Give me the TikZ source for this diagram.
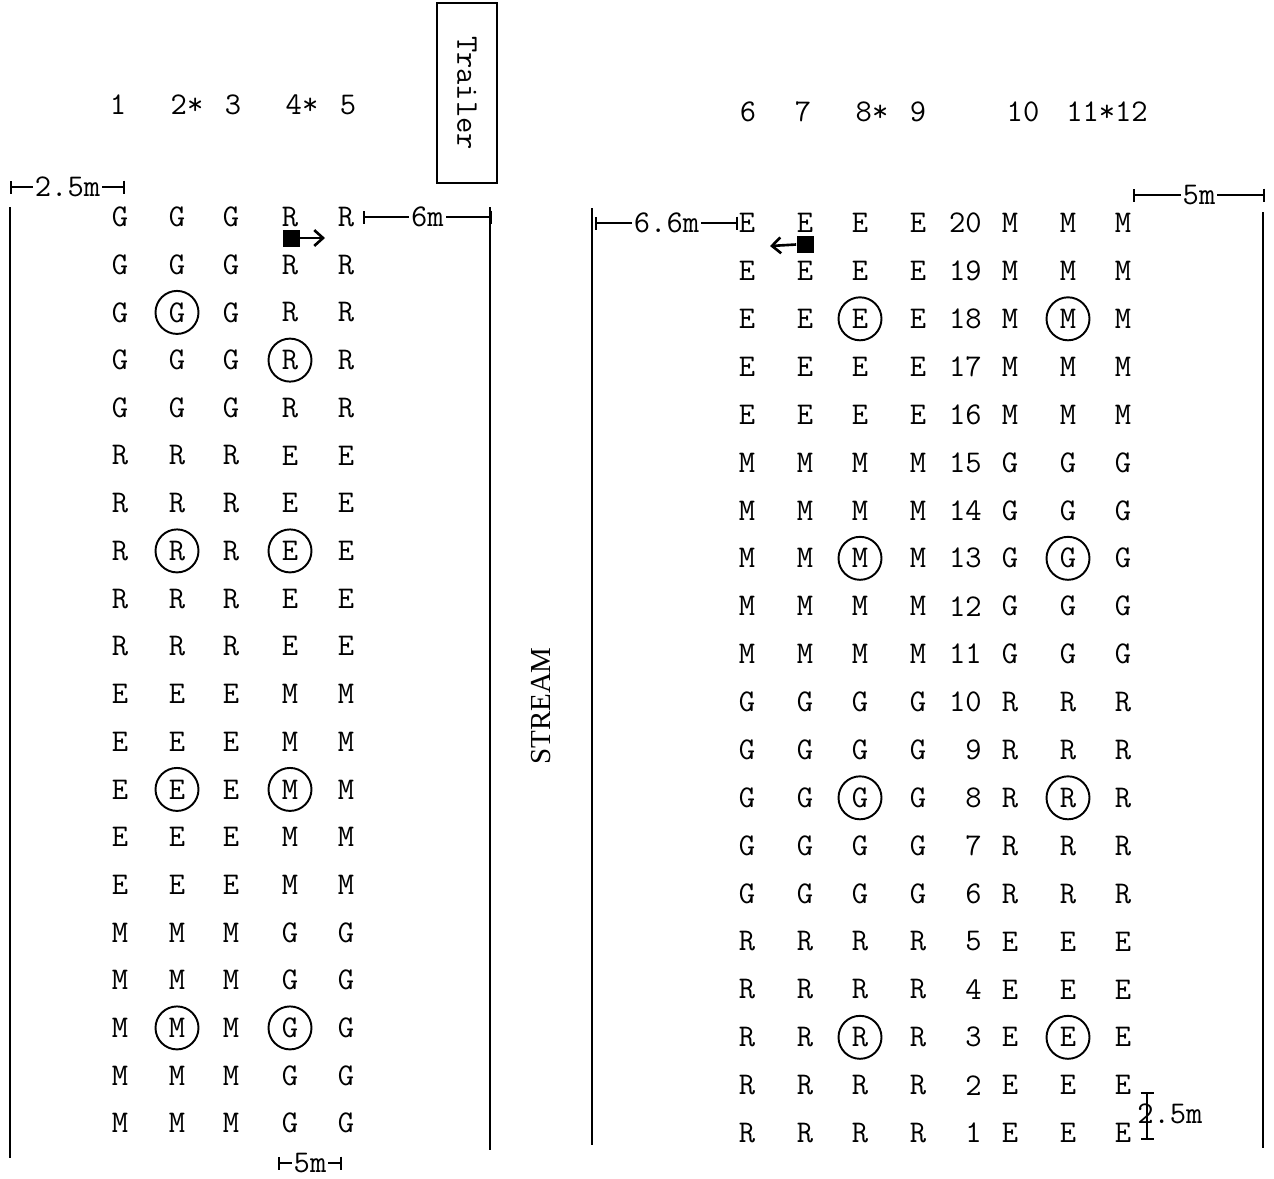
\documentclass[tikz,border=0pt]{standalone}
\usepackage{fontspec}
\newfontfamily\streamfont{Liberation Serif}
\usepackage{tikz}
\usetikzlibrary{arrows.meta}

\begin{document}
\begin{tikzpicture}[x=0.02cm,y=-0.02cm,
  lbl/.style={inner sep=0pt,font=\ttfamily\fontsize{18}{20}\selectfont},
  ring/.style={draw,circle,minimum size=0.86cm,line width=1.1pt},
  dim/.style={|-|,line width=1.1pt},
  blk/.style={fill,minimum size=0.34cm,inner sep=0pt},
  pointer/.style={-{Straight Barb[length=5pt,width=9pt]},line width=1.5pt},
  wall/.style={line width=1.1pt}]
\useasboundingbox (0,0) rectangle (1274,1178);
\node[lbl] (h1) at (118,105) {1};
\node[lbl] (h2) at (187,105) {2*};
\node[lbl] (h3) at (233,105) {3};
\node[lbl] (h4) at (302,105) {4*};
\node[lbl] (h5) at (348,105) {5};
\node[lbl] (h6) at (748,112) {6};
\node[lbl] (h7) at (803,112) {7};
\node[lbl] (h8) at (872,112) {8*};
\node[lbl] (h9) at (918,112) {9};
\node[lbl] (h10) at (1023,112) {10};
\node[lbl] (h11) at (1107,112) {11*12};
\node[lbl,draw,line width=1.6pt,rotate=-90,minimum width=3.6cm,minimum height=1.2cm] (trailer) at (467,93) {Trailer};
\node[rotate=90,font=\streamfont\fontsize{16.5}{18}\selectfont] (stream) at (541,706) {STREAM};
\draw[wall] (10,207) -- (10,1158);
\draw[wall] (490,207) -- (490,1150);
\draw[wall] (592,208) -- (592,1145);
\draw[wall] (1263,212) -- (1263,1148);
\foreach \b/\p/\q in {0/G/R,1/R/E,2/E/M,3/M/G}
  \foreach \i in {1,...,5} {
    \pgfmathtruncatemacro\r{5*\b+\i}
    \pgfmathsetmacro\y{217+47.7*(\r-1)}
    \foreach \c/\x in {1/120,2/177,3/231} \node[lbl] (L-\r-\c) at (\x,\y) {\p};
    \foreach \c/\x in {4/290,5/346} \node[lbl] (L-\r-\c) at (\x,\y) {\q};
  }
\foreach \b/\p/\q in {0/R/E,1/G/R,2/M/G,3/E/M}
  \foreach \i in {1,...,5} {
    \pgfmathtruncatemacro\n{5*\b+\i}
    \pgfmathsetmacro\y{223+47.9*(20-\n)}
    \foreach \c/\x in {6/747,7/805,8/860,9/918} \node[lbl] (R-\n-\c) at (\x,\y) {\p};
    \node[lbl,anchor=east] (R-\n-num) at (982,\y) {\n};
    \foreach \c/\x in {10/1010,11/1068,12/1123} \node[lbl] (R-\n-\c) at (\x,\y) {\q};
  }
\foreach \r/\c in {3/2,4/4,8/2,8/4,13/2,13/4,18/2,18/4}
  \node[ring] (oL-\r-\c) at (L-\r-\c) {};
\foreach \n in {3,8,13,18}
  \foreach \c in {8,11}
    \node[ring] (oR-\n-\c) at (R-\n-\c) {};
\node[blk] (sqL) at (291,238) {};
\coordinate (sqLend) at (325,238);
\draw[pointer] (sqL) -- (sqLend);
\node[blk] (sqR) at (805,244) {};
\coordinate (sqRend) at (770,246);
\draw[pointer] (sqR) -- (sqRend);
\coordinate (d1a) at (10,187);
\coordinate (d1b) at (125,187);
\draw[dim] (d1a) -- node[lbl,fill=white,inner sep=1pt] {2.5m} (d1b);
\coordinate (d2a) at (363,217);
\coordinate (d2b) at (492,217);
\draw[dim] (d2a) -- node[lbl,fill=white,inner sep=1pt] {6m} (d2b);
\coordinate (d3a) at (595,223);
\coordinate (d3b) at (738,223);
\draw[dim] (d3a) -- node[lbl,fill=white,inner sep=1pt] {6.6m} (d3b);
\coordinate (d4a) at (1133,195);
\coordinate (d4b) at (1265,195);
\draw[dim] (d4a) -- node[lbl,fill=white,inner sep=1pt] {5m} (d4b);
\coordinate (d5a) at (278,1163);
\coordinate (d5b) at (342,1163);
\draw[dim] (d5a) -- node[lbl,fill=white,inner sep=1pt] {5m} (d5b);
\coordinate (d6a) at (1147,1092);
\coordinate (d6b) at (1147,1140);
\draw[dim] (d6a) -- (d6b);
\node[lbl,anchor=west] (d6lbl) at (1137,1114) {2.5m};
\end{tikzpicture}
\end{document}
